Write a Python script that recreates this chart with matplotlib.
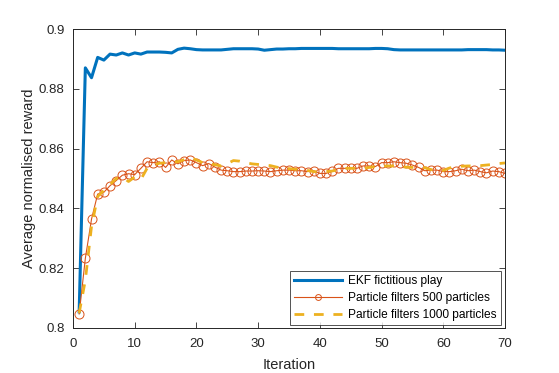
import matplotlib
matplotlib.use("Agg")
import matplotlib.pyplot as plt
import numpy as np

plt.rcParams['font.family'] = ['Liberation Sans', 'DejaVu Sans']

iterations = list(range(1, 71))

ekf = [0.8054, 0.8870, 0.8837, 0.8905, 0.8896, 0.8916, 0.8913, 0.8920, 0.8913, 0.8920,
       0.8916, 0.8923, 0.8923, 0.8923, 0.8922, 0.8920, 0.8932, 0.8936, 0.8934, 0.8931,
       0.8930, 0.8930, 0.8930, 0.8930, 0.8932, 0.8934, 0.8934, 0.8934, 0.8934, 0.8933,
       0.8929, 0.8931, 0.8933, 0.8933, 0.8934, 0.8934, 0.8935, 0.8935, 0.8935, 0.8935,
       0.8935, 0.8935, 0.8934, 0.8934, 0.8934, 0.8934, 0.8934, 0.8934, 0.8935, 0.8935,
       0.8934, 0.8931, 0.8930, 0.8930, 0.8930, 0.8930, 0.8930, 0.8930, 0.8930, 0.8930,
       0.8930, 0.8930, 0.8930, 0.8931, 0.8931, 0.8931, 0.8931, 0.8930, 0.8930, 0.8929]

pf500 = [0.8047, 0.8233, 0.8364, 0.8448, 0.8454, 0.8476, 0.8493, 0.8511, 0.8516, 0.8513,
         0.8534, 0.8556, 0.8553, 0.8556, 0.8537, 0.8562, 0.8549, 0.8560, 0.8562, 0.8553,
         0.8543, 0.8550, 0.8538, 0.8528, 0.8526, 0.8523, 0.8523, 0.8525, 0.8525, 0.8526,
         0.8525, 0.8523, 0.8526, 0.8528, 0.8528, 0.8526, 0.8526, 0.8523, 0.8526, 0.8517,
         0.8517, 0.8524, 0.8534, 0.8534, 0.8534, 0.8534, 0.8542, 0.8542, 0.8540, 0.8553,
         0.8553, 0.8556, 0.8553, 0.8551, 0.8545, 0.8537, 0.8526, 0.8528, 0.8528, 0.8523,
         0.8523, 0.8526, 0.8531, 0.8526, 0.8528, 0.8523, 0.8519, 0.8525, 0.8523, 0.8517]

pf1000 = [0.8050, 0.8160, 0.8340, 0.8440, 0.8460, 0.8480, 0.8500, 0.8505, 0.8490, 0.8505,
          0.8497, 0.8534, 0.8545, 0.8551, 0.8553, 0.8556, 0.8556, 0.8563, 0.8570, 0.8562,
          0.8553, 0.8550, 0.8546, 0.8542, 0.8550, 0.8560, 0.8558, 0.8553, 0.8549, 0.8547,
          0.8545, 0.8543, 0.8538, 0.8534, 0.8533, 0.8531, 0.8531, 0.8527, 0.8523, 0.8522,
          0.8523, 0.8525, 0.8530, 0.8534, 0.8534, 0.8534, 0.8534, 0.8537, 0.8540, 0.8541,
          0.8542, 0.8542, 0.8540, 0.8538, 0.8537, 0.8537, 0.8536, 0.8530, 0.8525, 0.8527,
          0.8535, 0.8540, 0.8541, 0.8542, 0.8542, 0.8543, 0.8545, 0.8547, 0.8550, 0.8552]

labels = ['EKF fictitious play', 'Particle filters 500 particles', 'Particle filters 1000 particles']
xticks = [0, 10, 20, 30, 40, 50, 60, 70]
yticks = [0.8, 0.82, 0.84, 0.86, 0.88, 0.9]
yticklabels = ['0.8', '0.82', '0.84', '0.86', '0.88', '0.9']

fig = plt.figure(figsize=(5.59, 3.73), dpi=100)
ax = fig.add_axes([73/559, 1-328/373, (505-73)/559, (328-29)/373])

ax.plot(iterations, ekf, color='#0072BD', lw=2.2, label=labels[0])
ax.plot(iterations, pf500, color='#D95319', lw=0.8, marker='o', ms=6.5,
        markerfacecolor='none', markeredgewidth=0.7, label=labels[1])
ax.plot(iterations, pf1000, color='#EDB120', lw=2.0, ls=(0, (3.5, 3.5)), label=labels[2])

ax.set_xlim(0, 70)
ax.set_ylim(0.8, 0.9)
ax.set_xticks(xticks)
ax.set_yticks(yticks)
ax.set_yticklabels(yticklabels)
ax.tick_params(direction='in', top=True, right=True, length=4, width=0.6,
               labelsize=9.5, colors='#262626')
ax.tick_params(axis='x', pad=7)
ax.tick_params(axis='y', pad=6)
for s in ax.spines.values():
    s.set_linewidth(0.7)
    s.set_color('#262626')
ax.set_xlabel('Iteration', fontsize=10.5, color='#262626', labelpad=6)
ax.set_ylabel('Average normalised reward', fontsize=10.5, color='#262626', labelpad=2)

leg = ax.legend(loc='lower right', fontsize=8.6, frameon=True, fancybox=False,
                edgecolor='#262626', bbox_to_anchor=(500.7/559, 1-325/373),
                bbox_transform=fig.transFigure, borderaxespad=0, handlelength=4.0,
                handletextpad=0.5, borderpad=0.35, labelspacing=0.42, markerscale=0.65)
leg.get_frame().set_linewidth(0.7)

fig.savefig('out.png', dpi=100)
